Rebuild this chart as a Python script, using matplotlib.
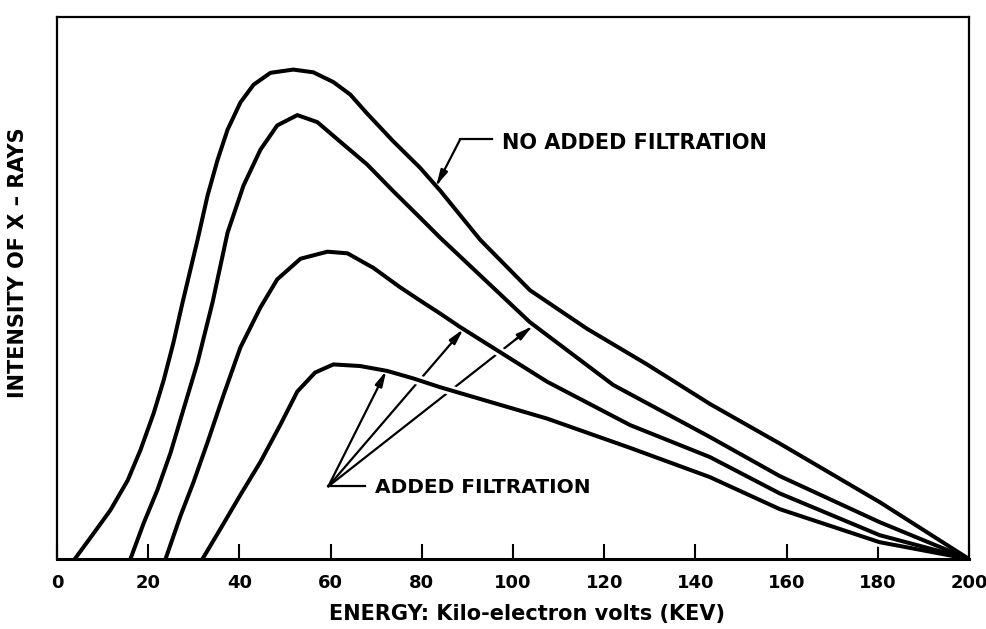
import matplotlib.pyplot as plt

# Energy (keV) and relative intensity
kev_none = [3.9, 8.0, 11.7, 15.5, 18.3, 21.2, 23.4, 25.5, 27.5, 30.8, 33.0, 35.2,
            37.4, 40.2, 43.1, 46.8, 51.8, 56.2, 60.6, 64.3, 68.0, 73.7, 79.6, 84.0,
            92.8, 103.7, 116.2, 129.4, 143.2, 158.5, 180.4, 200]
int_none = [0, 4.7, 9.0, 14.5, 20.1, 26.9, 33.0, 39.8, 47.2, 58.8, 67.0, 73.6,
            79.2, 84.2, 87.5, 89.7, 90.3, 89.8, 88.0, 85.7, 82.2, 77.1, 72.2, 68.0,
            58.9, 49.6, 42.5, 35.9, 28.6, 21.3, 10.5, 0]

kev_f1 = [16.1, 19.0, 22.0, 24.9, 27.7, 30.8, 34.1, 37.4, 40.9, 44.6, 48.3, 52.7,
          57.1, 62.1, 68.0, 73.7, 79.6, 84.0, 103.7, 122.0, 143.2, 158.5, 180.4, 200]
int_f1 = [0, 6.6, 12.7, 19.6, 27.5, 36.2, 47.3, 60.2, 68.9, 75.5, 80.0, 81.9,
          80.6, 77.0, 72.8, 67.9, 63.0, 59.3, 43.7, 32.1, 22.5, 15.3, 6.8, 0]

kev_f2 = [23.8, 27.1, 29.9, 33.0, 36.5, 40.2, 44.6, 48.3, 53.4, 59.3, 63.7, 69.4,
          75.3, 79.6, 84.0, 88.4, 107.5, 125.7, 143.2, 158.5, 180.4, 200]
int_f2 = [0, 8.0, 14.1, 21.5, 30.2, 39.0, 46.4, 51.6, 55.4, 56.7, 56.4, 53.7,
          50.1, 47.7, 45.3, 42.8, 32.7, 24.7, 18.8, 12.1, 4.4, 0]

kev_f3 = [31.9, 35.8, 40.2, 44.6, 49.0, 52.7, 56.6, 60.6, 66.5, 72.4, 78.2, 84.0,
          107.5, 125.7, 143.2, 158.5, 180.4, 200]
int_f3 = [0, 5.5, 11.8, 17.9, 24.8, 30.9, 34.4, 35.9, 35.6, 34.7, 33.3, 31.7,
          25.9, 20.5, 15.1, 9.2, 3.1, 0]

energy_ticks = [0, 20, 40, 60, 80, 100, 120, 140, 160, 180, 200]

# annotation anchors (keV, intensity)
no_filt_tip = (83.2, 68.9)
no_filt_elbow = (88.4, 77.4)
no_filt_end = (95.4, 77.4)
no_filt_text = (97.6, 76.8)
filt_origin = (59.5, 13.4)
filt_end = (67.6, 13.4)
filt_text = (69.8, 13.1)
filt_tips = [(72.2, 34.7), (89.1, 42.4), (104.2, 42.9)]

fig = plt.figure(figsize=(9.86, 6.29), dpi=100)
ax = fig.add_axes([57 / 986, 1 - 559 / 629, 912 / 986, 542 / 629])
ax.set_xlim(0, 200)
ax.set_ylim(0, 100)

# white halo under each curve so the leader arrows look broken where they cross
curves = [(kev_none, int_none), (kev_f1, int_f1), (kev_f2, int_f2), (kev_f3, int_f3)]
for kx, iy in curves:
    ax.plot(kx, iy, color='white', lw=7, zorder=3, solid_capstyle='round')
for kx, iy in curves:
    ax.plot(kx, iy, color='black', lw=2.9, zorder=4, solid_joinstyle='round')


def arrow(start, tip):
    # shaft under the halos, head on top of them
    ax.annotate('', xy=tip, xytext=start, zorder=2,
                arrowprops=dict(arrowstyle='-', lw=1.6, color='black',
                                shrinkA=0, shrinkB=0))
    mid = (start[0] + 0.92 * (tip[0] - start[0]), start[1] + 0.92 * (tip[1] - start[1]))
    ax.annotate('', xy=tip, xytext=mid, zorder=3.5,
                arrowprops=dict(arrowstyle='-|>,head_length=0.9,head_width=0.22',
                                lw=1.6, color='black', shrinkA=0, shrinkB=0))


# NO ADDED FILTRATION
ax.plot([no_filt_end[0], no_filt_elbow[0]], [no_filt_end[1], no_filt_elbow[1]],
        color='black', lw=1.6, zorder=2)
arrow(no_filt_elbow, no_filt_tip)
ax.text(no_filt_text[0], no_filt_text[1], 'NO ADDED FILTRATION', fontsize=15,
        fontweight='bold', ha='left', va='center')

# ADDED FILTRATION
ax.plot([filt_origin[0], filt_end[0]], [filt_origin[1], filt_end[1]],
        color='black', lw=1.6, zorder=2)
for t in filt_tips:
    arrow(filt_origin, t)
ax.text(filt_text[0], filt_text[1], 'ADDED FILTRATION', fontsize=14.5,
        fontweight='bold', ha='left', va='center')

# frame and ticks
for name, sp in ax.spines.items():
    sp.set_linewidth(1.6)
    sp.set_zorder(5)
ax.spines['bottom'].set_linewidth(2.2)
ax.set_xticks(energy_ticks)
ax.set_yticks([])
ax.tick_params(axis='x', direction='in', length=11, width=1.5, pad=11,
               labelsize=13)
for lab in ax.get_xticklabels():
    lab.set_fontweight('bold')

fig.text(527 / 986, 1 - 614 / 629, 'ENERGY: Kilo-electron volts (KEV)', fontsize=15,
         fontweight='bold', ha='center', va='center')
fig.text(18 / 986, 1 - 263 / 629, 'INTENSITY OF X \u2013 RAYS', rotation=90,
         fontsize=15, fontweight='bold', ha='center', va='center')

plt.savefig('out.png', dpi=100)
